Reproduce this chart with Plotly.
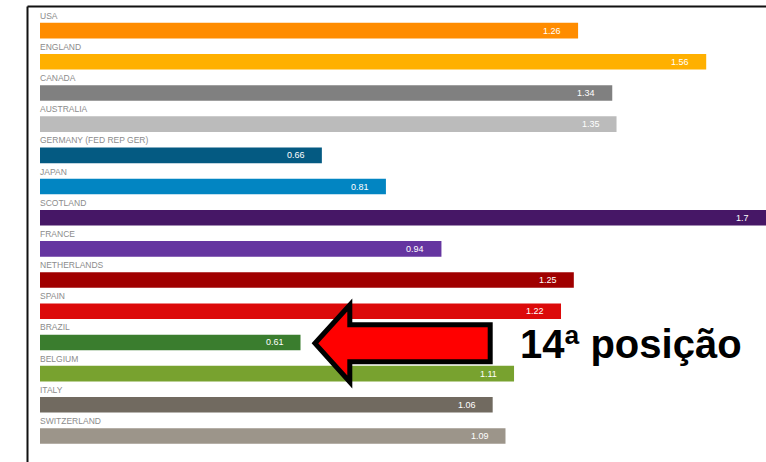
import plotly.graph_objects as go

countries = ["USA", "ENGLAND", "CANADA", "AUSTRALIA", "GERMANY (FED REP GER)", "JAPAN",
             "SCOTLAND", "FRANCE", "NETHERLANDS", "SPAIN", "BRAZIL", "BELGIUM", "ITALY",
             "SWITZERLAND"]
values = [1.26, 1.56, 1.34, 1.35, 0.66, 0.81, 1.7, 0.94, 1.25, 1.22, 0.61, 1.11, 1.06, 1.09]
value_labels = ["1.26", "1.56", "1.34", "1.35", "0.66", "0.81", "1.7", "0.94", "1.25",
                "1.22", "0.61", "1.11", "1.06", "1.09"]
bar_colors = ["#FF8C00", "#FFB000", "#808080", "#BBBBBB", "#045A82", "#0285C2", "#461766",
              "#6535A0", "#A00000", "#DC0A0A", "#3A7D2E", "#78A22F", "#716A60", "#9C958A"]
callout_text = "14ª posição"

W, H = 766, 462
ML, MR, MT, MB = 40, 0, 15, 4
PW, PH = W - ML - MR, H - MT - MB
X_MAX = 1.7


def px(x):
    return (x - ML) / PW


def py(y):
    return (H - MB - y) / PH


fig = go.Figure(go.Bar(
    y=countries, x=values, orientation="h",
    marker=dict(color=bar_colors, line=dict(width=0)),
    width=0.5, hoverinfo="skip", cliponaxis=False,
))

annotations = []
for c, v, t in zip(countries, values, value_labels):
    annotations.append(dict(x=v - 0.035, y=c, xref="x", yref="y", text=t, showarrow=False,
                            xanchor="right", yanchor="middle",
                            font=dict(family="Liberation Sans, Arial", size=9, color="white")))
    annotations.append(dict(x=0, y=c, xref="x", yref="y", text=c, showarrow=False,
                            xanchor="left", yanchor="middle", yshift=15, xshift=-2,
                            font=dict(family="Liberation Sans, Arial", size=8.5, color="#8C8C8C")))

annotations.append(dict(x=px(518), y=py(344), xref="paper", yref="paper", text="<b>" + callout_text + "</b>",
                        showarrow=False, xanchor="left", yanchor="middle",
                        font=dict(family="Liberation Sans, Arial", size=40, color="black")))

# callout arrow pointing at the Brazil bar
arrow_pts = [(315, 343.3), (349.8, 305), (349.8, 324.8), (490.2, 324.8),
             (490.2, 361.8), (349.8, 361.8), (349.8, 382), (315, 343.3)]
arrow_path = "M " + " L ".join(f"{px(x):.5f},{py(y):.5f}" for x, y in arrow_pts) + " Z"

shapes = [
    dict(type="path", xref="paper", yref="paper", path=arrow_path,
         fillcolor="#FF0000", line=dict(color="black", width=5)),
    # frame lines on the left and top
    dict(type="line", xref="paper", yref="paper", x0=px(27.5), x1=px(27.5), y0=py(6.5), y1=py(470),
         line=dict(color="#111111", width=2)),
    dict(type="line", xref="paper", yref="paper", x0=px(27.5), x1=px(780), y0=py(6.5), y1=py(6.5),
         line=dict(color="#111111", width=2)),
]

fig.update_layout(
    width=W, height=H,
    margin=dict(l=ML, r=MR, t=MT, b=MB),
    paper_bgcolor="white", plot_bgcolor="white",
    showlegend=False,
    xaxis=dict(range=[0, X_MAX], visible=False, fixedrange=True),
    yaxis=dict(categoryorder="array", categoryarray=countries, autorange="reversed",
               visible=False, fixedrange=True),
    annotations=annotations, shapes=shapes,
)

fig.write_html("out.html", config={"displayModeBar": False})
